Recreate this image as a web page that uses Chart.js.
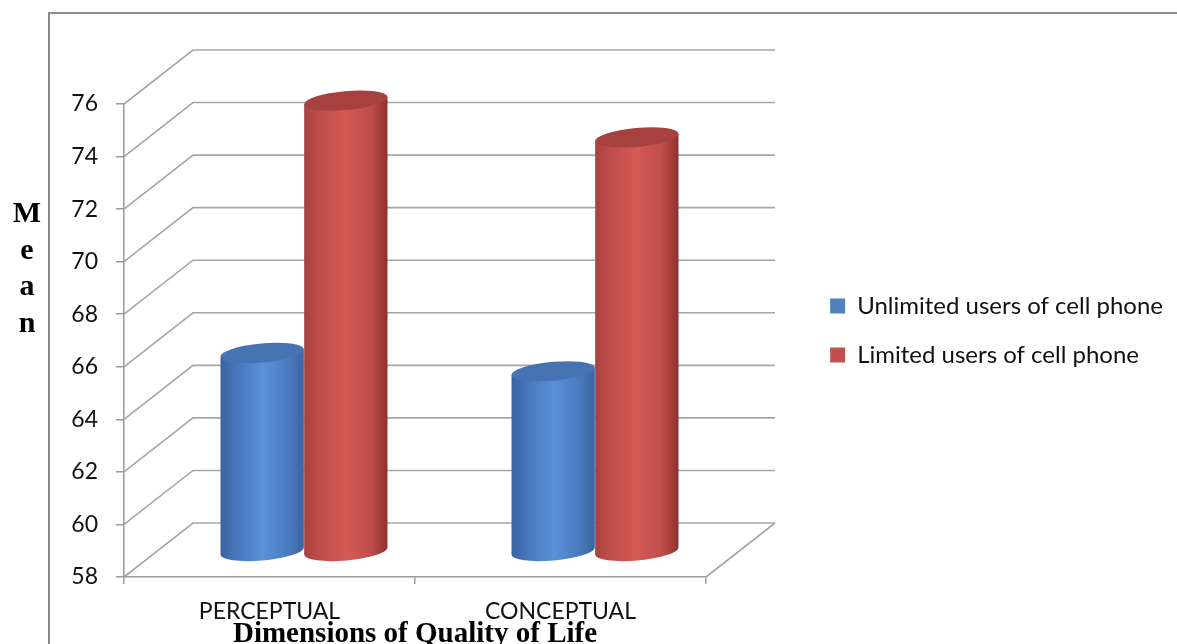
<!DOCTYPE html>
<html><head><meta charset="utf-8">
<script src="https://cdn.jsdelivr.net/npm/chart.js@4.4.1/dist/chart.umd.min.js"></script>
<style>html,body{margin:0;padding:0;background:#fff;overflow:hidden}#wrap{width:1177px;height:644px;position:relative}canvas{display:block}</style>
</head><body><div id="wrap"><canvas id="c" width="1177" height="644"></canvas></div>
<script>
// ---- data ----
const categories = ['PERCEPTUAL', 'CONCEPTUAL'];
const seriesNames = ['Unlimited users of cell phone', 'Limited users of cell phone'];
const unlimitedMeans = [65.5, 64.8];
const limitedMeans = [75.1, 73.7];
const yMin = 58, yMax = 76, yStep = 2;
const xTitle = 'Dimensions of Quality of Life';
const yTitleLetters = ['M', 'e', 'a', 'n'];

// ---- styles ----
const seriesColors = ['#4F81BD', '#C0504D'];
const cylShades = [
  {stops: ['#3a62a0', '#4473b6', '#5a91d8', '#4a7dc0', '#3b64a2'], top: '#4674b3'},
  {stops: ['#a8413e', '#bb4c49', '#d45956', '#c04e4b', '#8e302e'], top: '#a6413f'}
];
const DX = 69, DY = 54;           // 3D depth offset
const AREA_RIGHT = 706;           // right end of front floor edge
const tickFont = {family: 'Lato', size: 23};
const legendFont = {family: 'Lato', size: 24};
const legendPad = 25, legendBox = 15;
const layoutRight = 4;

function drawCylinder(ctx, cx, topY, botY, w, shade) {
  const rx = w / 2, ry = 9.5, rot = -0.09;
  const c = Math.cos(rot), s = Math.sin(rot);
  const lx = cx - rx * c, rX = cx + rx * c, ldy = -rx * s, rdy = rx * s;
  const g = ctx.createLinearGradient(cx - rx, 0, cx + rx, 0);
  const pos = [0, 0.15, 0.5, 0.8, 1];
  shade.stops.forEach((col, i) => g.addColorStop(pos[i], col));
  ctx.beginPath();
  ctx.moveTo(lx, topY + ldy);
  ctx.lineTo(lx, botY + ldy);
  ctx.ellipse(cx, botY, rx, ry, rot, Math.PI, 0, true);
  ctx.lineTo(rX, topY + rdy);
  ctx.closePath();
  ctx.fillStyle = g;
  ctx.fill();
  ctx.beginPath();
  ctx.ellipse(cx, topY, rx, ry, rot, 0, Math.PI * 2);
  ctx.fillStyle = shade.top;
  ctx.fill();
}

function build() {
  const mctx = document.createElement('canvas').getContext('2d');
  mctx.font = legendFont.size + 'px ' + legendFont.family;
  const maxLegendText = Math.max(...seriesNames.map(s => mctx.measureText(s).width));
  const legendWidth = legendPad + legendBox + legendFont.size / 2 + maxLegendText + 10;
  const gapWidth = Math.max(0, 1177 - layoutRight - AREA_RIGHT - legendWidth);

  const scenePlugin = {
    id: 'scene3d',
    afterLayout(chart) {
      chart.legend.top -= 10;
      chart.legend.bottom -= 10;
    },
    beforeDraw(chart) {
      const ctx = chart.ctx, {left, right} = chart.chartArea, ys = chart.scales.y;
      ctx.save();
      ctx.strokeStyle = '#8c8c8c'; ctx.lineWidth = 2;
      ctx.beginPath(); ctx.moveTo(49, chart.height); ctx.lineTo(49, 13); ctx.lineTo(chart.width, 13); ctx.stroke();
      ctx.strokeStyle = '#a6a6a6'; ctx.lineWidth = 1.6;
      ys.ticks.forEach(t => {
        const y = ys.getPixelForValue(t.value);
        ctx.beginPath(); ctx.moveTo(left, y); ctx.lineTo(left + DX, y - DY); ctx.lineTo(right + DX, y - DY); ctx.stroke();
      });
      const yb = ys.getPixelForValue(ys.min);
      ctx.beginPath(); ctx.moveTo(right, yb); ctx.lineTo(right + DX, yb - DY); ctx.stroke();
      ctx.restore();
    },
    beforeDatasetDraw(chart, args) {
      const ctx = chart.ctx, ys = chart.scales.y;
      const floor = ys.getPixelForValue(ys.min);
      ctx.save();
      args.meta.data.forEach(el => {
        const p = el.getProps(['x', 'y', 'width'], true);
        drawCylinder(ctx, p.x + DX / 2, p.y - DY / 2, floor - DY / 2 + 1, p.width, cylShades[args.index]);
      });
      ctx.restore();
      return false;
    },
    afterDraw(chart) {
      const ctx = chart.ctx;
      ctx.save();
      ctx.font = 'bold 30px "Liberation Serif"';
      ctx.fillStyle = '#000';
      ctx.textAlign = 'center';
      ctx.textBaseline = 'alphabetic';
      yTitleLetters.forEach((ch, i) => ctx.fillText(ch, 27, 222 + i * 36.7));
      ctx.restore();
    }
  };

  new Chart(document.getElementById('c'), {
    type: 'bar',
    data: {
      labels: categories,
      datasets: [
        {label: seriesNames[0], data: unlimitedMeans, backgroundColor: seriesColors[0], borderWidth: 0},
        {label: seriesNames[1], data: limitedMeans, backgroundColor: seriesColors[1], borderWidth: 0}
      ]
    },
    options: {
      responsive: false,
      animation: false,
      devicePixelRatio: 1,
      datasets: {bar: {categoryPercentage: 0.575, barPercentage: 1.0}},
      layout: {padding: {top: 104, left: 0, right: layoutRight, bottom: 0}},
      scales: {
        x: {
          type: 'category',
          offset: true,
          grid: {offset: true, drawOnChartArea: false, drawTicks: true, tickLength: 7, color: '#9a9a9a', lineWidth: 1.5},
          border: {display: true, color: '#9a9a9a', width: 1.5},
          ticks: {font: tickFont, color: '#111', padding: 14, maxRotation: 0},
          title: {display: true, text: xTitle, color: '#000',
            font: {family: 'Liberation Serif', size: 29, weight: 'bold', lineHeight: 0.7},
            padding: {top: 0, bottom: -1}},
          afterFit(s) { s.height = 67; }
        },
        y: {
          min: yMin, max: yMax,
          ticks: {stepSize: yStep, font: tickFont, color: '#111', padding: 18},
          grid: {drawOnChartArea: false, drawTicks: true, tickLength: 8, color: '#9a9a9a', lineWidth: 1.5},
          border: {display: true, color: '#9a9a9a', width: 1.5},
          afterFit(s) { s.width = 124; }
        },
        gap: {
          type: 'linear', axis: 'y', position: 'right', display: true,
          grid: {display: false, drawTicks: false}, border: {display: false}, ticks: {display: false},
          afterFit(s) { s.width = gapWidth; }
        }
      },
      plugins: {
        tooltip: {enabled: false},
        legend: {
          position: 'right', fullSize: false, maxWidth: 600,
          labels: {boxWidth: legendBox, boxHeight: legendBox, padding: legendPad, font: legendFont, color: '#111'}
        }
      }
    },
    plugins: [scenePlugin]
  });
}

Promise.all([
  document.fonts.load('24px Lato'),
  document.fonts.load('23px Lato'),
  document.fonts.load('bold 29px "Liberation Serif"')
]).then(build, build);
</script></body></html>
